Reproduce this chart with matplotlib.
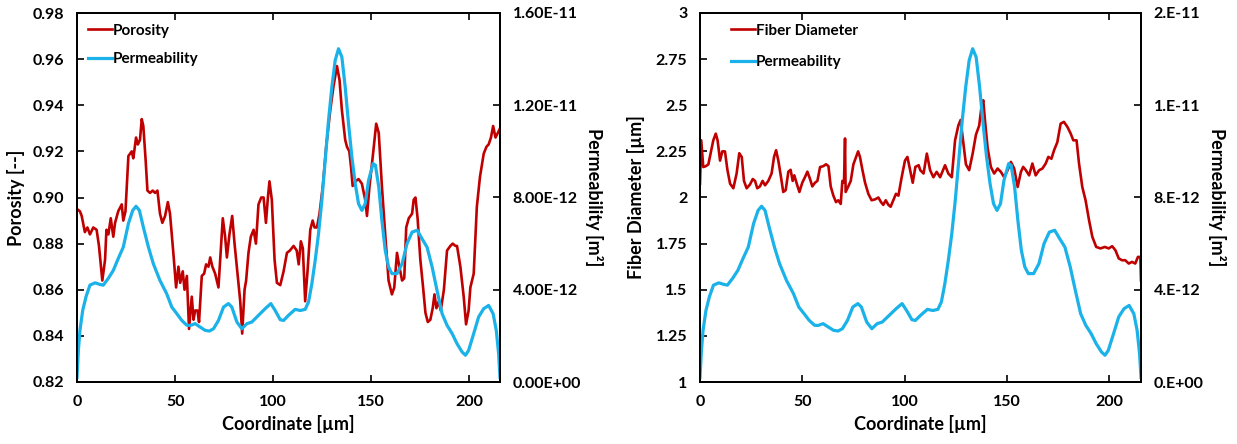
import matplotlib
matplotlib.use("Agg")
import matplotlib.pyplot as plt
from matplotlib.ticker import FuncFormatter, MultipleLocator

plt.rcParams['font.family'] = ['Lato', 'DejaVu Sans']
plt.rcParams['font.weight'] = 'bold'
plt.rcParams['axes.labelweight'] = 'bold'

RED = '#C00000'
BLUE = '#1AB2E8'

# porosity profile along the sample
por_x = [0, 1.5, 2.4, 4, 5.3, 6.6, 8.3, 10, 11.2, 12.9, 14.3, 15, 16, 17.2, 18.5, 19.4,
         21, 22.8, 23.6, 24.7, 26.2, 27.9, 28.7, 30.1, 31, 32.1, 33, 33.8, 35, 35.9,
         37.2, 38.6, 39.8, 41, 42.3, 43.5, 44.9, 46.3, 47.4, 49.1, 50.5, 51.7, 52.6,
         53.9, 54.8, 56, 57.1, 58.5, 59.4, 60.2, 61.4, 62.2, 63.6, 64.8, 65.8, 67,
         67.9, 69, 70.4, 72.1, 74.3, 75.5, 76.4, 77.7, 79.1, 80.3, 81.8, 83.2, 84.2,
         85.4, 86.2, 87.4, 88.6, 90, 91.2, 92.5, 93.9, 95.1, 96.3, 97.3, 98.1, 99.3,
         100.7, 101.9, 103.6, 105.3, 107, 108.5, 110.4, 112, 113, 114.1, 115.1, 116.3,
         117.5, 118.9, 120.1, 121.1, 122.3, 123.6, 125.3, 127, 129.1, 130.7, 132.5,
         133.8, 135, 136.7, 137.6, 138.8, 139.7, 140.5, 141.9, 143.5, 145.2, 146.9,
         147.8, 149.1, 150.9, 152.5, 153.8, 155.4, 157.1, 158.8, 160.5, 161.7, 163.1,
         164.3, 165.7, 166.8, 167.8, 169.1, 170.8, 171.6, 172.5, 173.6, 175, 176.4,
         177.6, 178.8, 180.1, 181.3, 182.2, 183.2, 184.4, 185.4, 187, 188.6, 190.3,
         191.5, 192.9, 193.7, 195.4, 197.1, 198.3, 199.6, 200.5, 202.2, 203.8, 205.4,
         207.3, 208.7, 209.8, 211, 212.1, 213.3, 214.5, 215.6]
porosity = [0.895, 0.894, 0.892, 0.885, 0.887, 0.884, 0.887, 0.886, 0.879, 0.864, 0.873,
            0.886, 0.884, 0.891, 0.883, 0.889, 0.894, 0.897, 0.890, 0.894, 0.918, 0.920,
            0.917, 0.926, 0.923, 0.925, 0.934, 0.931, 0.916, 0.903, 0.902, 0.903, 0.902,
            0.903, 0.893, 0.889, 0.892, 0.898, 0.893, 0.876, 0.861, 0.870, 0.863, 0.868,
            0.860, 0.866, 0.843, 0.857, 0.847, 0.851, 0.851, 0.846, 0.866, 0.867, 0.871,
            0.870, 0.874, 0.870, 0.867, 0.861, 0.891, 0.883, 0.874, 0.884, 0.892, 0.880,
            0.867, 0.855, 0.841, 0.860, 0.864, 0.876, 0.883, 0.886, 0.880, 0.897, 0.900,
            0.900, 0.889, 0.900, 0.907, 0.899, 0.873, 0.863, 0.862, 0.868, 0.876, 0.877,
            0.879, 0.877, 0.871, 0.881, 0.878, 0.855, 0.868, 0.886, 0.890, 0.887, 0.887,
            0.893, 0.905, 0.922, 0.938, 0.948, 0.957, 0.951, 0.938, 0.925, 0.922, 0.920,
            0.913, 0.905, 0.907, 0.908, 0.906, 0.899, 0.892, 0.905, 0.919, 0.932, 0.928,
            0.905, 0.884, 0.864, 0.858, 0.861, 0.876, 0.870, 0.864, 0.865, 0.887, 0.891,
            0.893, 0.899, 0.900, 0.891, 0.873, 0.861, 0.850, 0.846, 0.847, 0.852, 0.858,
            0.852, 0.855, 0.851, 0.860, 0.877, 0.879, 0.880, 0.879, 0.879, 0.870, 0.857,
            0.845, 0.851, 0.861, 0.867, 0.896, 0.909, 0.919, 0.922, 0.923, 0.926, 0.931,
            0.926, 0.928, 0.930]

# permeability profile, in units of 1e-12 m^2
perm_x = [0, 0.7, 1.5, 2.9, 4.6, 6.6, 9.2, 11.7, 13.4, 16, 18.5, 21, 23.6, 26.2, 28.4,
          30.1, 31.8, 33.8, 36.4, 38.9, 42.3, 45.7, 48.3, 50.9, 53.4, 56, 57.7, 60.2,
          62.8, 65.3, 67.5, 69.6, 72.1, 74.7, 77.2, 78.9, 81.5, 84, 86.6, 89.1, 92.5,
          95.9, 98.8, 101, 103.6, 105.3, 107.8, 111.2, 113.8, 116.3, 118, 119.7, 121.4,
          123.1, 124.8, 126.5, 128.2, 129.9, 131.6, 133.3, 135, 136.7, 138.4, 140.1,
          141.8, 143.5, 145.2, 146.9, 148.6, 150.9, 152.1, 153.8, 155.4, 157.1, 158.8,
          160.5, 163.1, 165.7, 168.2, 170.8, 173.4, 175.8, 178.4, 181, 183.5, 186.1,
          188.6, 191.2, 193.7, 196.3, 198, 199.6, 202.2, 204.7, 207.3, 209.8, 212.1,
          213.7, 214.9, 215.6]
perm_e12 = [0.2, 1.37, 2.24, 3.1, 3.7, 4.2, 4.3, 4.23, 4.2, 4.5, 4.84, 5.35, 5.85, 6.87,
            7.44, 7.62, 7.44, 6.72, 5.85, 5.13, 4.4, 3.83, 3.25, 2.96, 2.67, 2.46, 2.45,
            2.53, 2.38, 2.24, 2.21, 2.31, 2.67, 3.25, 3.40, 3.25, 2.6, 2.31, 2.53, 2.6,
            2.89, 3.18, 3.40, 3.1, 2.7, 2.67, 2.89, 3.15, 3.1, 3.15, 3.47, 4.26, 5.27,
            6.43, 7.88, 9.6, 11.34, 12.79, 13.95, 14.45, 14.09, 12.79, 11.2, 9.76, 8.6,
            7.73, 7.44, 7.73, 8.74, 9.47, 9.4, 8.46, 7.01, 5.71, 4.99, 4.7, 4.7, 5.13,
            6.0, 6.5, 6.58, 6.22, 5.85, 4.99, 3.97, 2.96, 2.46, 2.1, 1.66, 1.3, 1.16,
            1.37, 2.1, 2.82, 3.18, 3.32, 2.96, 2.24, 1.23, 0.2]
permeability = [v * 1e-12 for v in perm_e12]

# fibre diameter profile [um]
dia_x = [0, 0.6, 1.6, 2.9, 4.1, 5.2, 6.5, 7.7, 8.6, 9.8, 10.9, 12.2, 13.4, 14.7, 16.3,
         17.9, 19.2, 20.4, 21.5, 22.8, 24.4, 25.8, 26.9, 28, 29.3, 30.6, 31.8, 33.4, 35,
         36.2, 37.2, 38.3, 39.6, 40.7, 41.9, 43.2, 44.3, 45.3, 46.1, 47.3, 48.6, 50,
         51.3, 52.5, 53.8, 54.9, 56.2, 57.4, 58.7, 60.3, 61.6, 62.8, 63.9, 65.2, 66.5,
         67.6, 68.8, 69.6, 70.4, 70.9, 71.2, 72.5, 73.7, 75, 76.3, 77.3, 78.2, 79.4,
         80.7, 82.3, 83.9, 85.6, 87.2, 88.5, 89.6, 90.8, 92.1, 93.2, 94.5, 95.8, 97,
         98.6, 100.2, 101.4, 102.7, 104, 105.3, 106.9, 107.7, 109.3, 110.9, 112.5,
         114.1, 115.7, 117.4, 119.8, 121.4, 123.1, 124.7, 126.3, 127.4, 128.7, 130,
         131.6, 133.3, 134.9, 136.5, 137.7, 138.5, 139.3, 140.6, 142.2, 143.8, 145.5,
         147.1, 148.7, 150.4, 152, 153.6, 155.3, 156.9, 158, 159.3, 160.9, 162.5, 164.1,
         165.8, 167.4, 169, 170.3, 171.8, 173.1, 174.7, 176.3, 177.9, 179.6, 181.2,
         182.5, 184.1, 185.3, 186.9, 188.5, 190.2, 191.8, 193.7, 195.8, 197.9, 199.8,
         201.5, 203.1, 204.7, 206.3, 207.9, 209.6, 211.2, 212.8, 214.1, 215.3, 215.6]
diameter = [2.075, 2.31, 2.165, 2.17, 2.18, 2.24, 2.31, 2.346, 2.31, 2.20, 2.25, 2.25,
            2.15, 2.075, 2.05, 2.13, 2.24, 2.22, 2.09, 2.05, 2.07, 2.10, 2.09, 2.05,
            2.06, 2.09, 2.066, 2.09, 2.13, 2.22, 2.256, 2.20, 2.11, 2.03, 2.04, 2.14,
            2.15, 2.09, 2.12, 2.075, 2.03, 2.08, 2.11, 2.14, 2.10, 2.06, 2.08, 2.09,
            2.165, 2.17, 2.18, 2.17, 2.06, 2.01, 1.975, 1.985, 1.965, 2.09, 2.08, 2.32,
            2.03, 2.06, 2.09, 2.18, 2.22, 2.25, 2.22, 2.15, 2.08, 2.02, 1.985, 1.99, 2.0,
            1.975, 1.96, 1.985, 1.96, 1.95, 1.985, 2.02, 2.01, 2.11, 2.20, 2.22, 2.15,
            2.08, 2.166, 2.175, 2.148, 2.13, 2.238, 2.148, 2.11, 2.139, 2.11, 2.175,
            2.13, 2.11, 2.31, 2.39, 2.42, 2.30, 2.18, 2.148, 2.238, 2.34, 2.39, 2.50,
            2.527, 2.42, 2.27, 2.166, 2.13, 2.157, 2.139, 2.11, 2.148, 2.193, 2.157,
            2.057, 2.139, 2.166, 2.148, 2.12, 2.184, 2.12, 2.148, 2.157, 2.184, 2.22,
            2.21, 2.256, 2.30, 2.40, 2.41, 2.383, 2.347, 2.31, 2.31, 2.184, 2.057,
            1.985, 1.877, 1.787, 1.732, 1.724, 1.732, 1.724, 1.736, 1.714, 1.67, 1.66,
            1.66, 1.642, 1.651, 1.642, 1.678, 1.678, 1.55]

x_ticks = [0, 50, 100, 150, 200]
x_max = 215.6

fig = plt.figure(figsize=(12.37, 4.44), dpi=100)
ax1 = fig.add_axes([77 / 1237, 62 / 444, 423 / 1237, 369 / 444])
ax2 = fig.add_axes([700 / 1237, 62 / 444, 441 / 1237, 369 / 444])


def style_axes(ax, ax_r):
    ax.set_xlim(0, x_max)
    ax.set_xticks(x_ticks)
    ax.tick_params(axis='x', which='both', direction='in', length=5, width=1.2,
                   labelsize=11.5, pad=9, top=True)
    ax.tick_params(axis='y', direction='in', length=5, width=1.2, labelsize=11.5, pad=9)
    ax_r.tick_params(axis='y', direction='in', length=5, width=1.2, labelsize=11.5, pad=9)
    for sp in list(ax.spines.values()) + list(ax_r.spines.values()):
        sp.set_linewidth(1.3)
    for a in (ax, ax_r):
        a.xaxis.get_offset_text().set_visible(False)
        a.yaxis.get_offset_text().set_visible(False)
    ax.set_xlabel('Coordinate [µm]', fontsize=13, labelpad=5)
    ax_r.set_ylabel('Permeability [m²]', fontsize=13, rotation=270, labelpad=16)


# left: porosity vs permeability
axr1 = ax1.twinx()
l1, = ax1.plot(por_x, porosity, color=RED, lw=1.9, label='Porosity')
l2, = axr1.plot(perm_x, permeability, color=BLUE, lw=2.3, label='Permeability')
ax1.set_ylim(0.82, 0.98)
ax1.yaxis.set_major_locator(MultipleLocator(0.02))
ax1.yaxis.set_major_formatter(FuncFormatter(lambda v, p: f'{v:.2f}'))
axr1.set_ylim(0, 1.6e-11)
axr1.yaxis.set_major_locator(MultipleLocator(4e-12))
axr1.yaxis.set_major_formatter(FuncFormatter(lambda v, p: f'{v:.2E}'))
ax1.set_ylabel('Porosity [--]', fontsize=13, labelpad=6)
style_axes(ax1, axr1)
axr1.legend([l1, l2], ['Porosity', 'Permeability'], loc='upper left', frameon=False,
            fontsize=11, handlelength=1.6, handletextpad=0.05, labelspacing=0.95,
            borderaxespad=0.3, bbox_to_anchor=(0.0, 1.0))

# right: fibre diameter vs permeability
axr2 = ax2.twinx()
l3, = ax2.plot(dia_x, diameter, color=RED, lw=1.9, label='Fiber Diameter')
l4, = axr2.plot(perm_x, permeability, color=BLUE, lw=2.3, label='Permeability')
ax2.set_ylim(1, 3)
ax2.yaxis.set_major_locator(MultipleLocator(0.25))
ax2.yaxis.set_major_formatter(FuncFormatter(lambda v, p: f'{v:g}'))
axr2.set_ylim(0, 1.6e-11)
axr2.yaxis.set_major_locator(MultipleLocator(4e-12))
axr2.yaxis.set_major_formatter(FuncFormatter(lambda v, p: f'{v:.0E}'.replace('E', '.E')))
ax2.set_ylabel('Fiber Diameter [µm]', fontsize=13, labelpad=8)
style_axes(ax2, axr2)
axr2.legend([l3, l4], ['Fiber Diameter', 'Permeability'], loc='upper left', frameon=False,
            fontsize=11, handlelength=1.6, handletextpad=0.05, labelspacing=1.15,
            borderaxespad=0.3, bbox_to_anchor=(0.045, 1.0))

fig.savefig('out.png', dpi=100)
